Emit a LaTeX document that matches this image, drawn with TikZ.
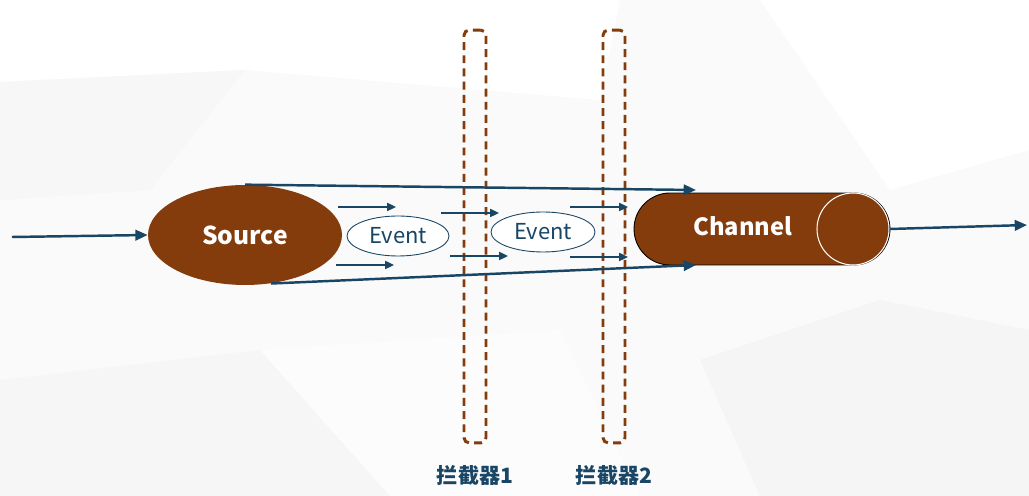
\documentclass[tikz,border=0pt]{standalone}
\usepackage{fontspec}
\setmainfont{Noto Sans CJK SC}
\usetikzlibrary{shapes.geometric,arrows.meta,positioning}
\definecolor{rust}{HTML}{843C0C}
\definecolor{navy}{HTML}{1A4666}

\begin{document}
\begin{tikzpicture}[x=0.02cm, y=-0.02cm,
    flow/.style={draw=navy, line width=1.4pt, -{Triangle[length=7pt,width=6pt]}},
    tick/.style={draw=navy, line width=1.1pt, -{Triangle[length=5pt,width=4.5pt]}},
    event/.style={ellipse, draw=navy, line width=0.5pt, fill=white, text=navy, inner sep=0pt, font=\fontsize{12.5}{14}\selectfont},
    interceptor/.style={rectangle, rounded corners=3pt, draw=rust, line width=1.7pt, dash pattern=on 4.5pt off 3pt, minimum width=0.44cm, minimum height=8.26cm},
    caption/.style={text=navy, font=\fontsize{12}{14}\selectfont\bfseries}]
  \useasboundingbox (0,0) rectangle (1029,496);
  % background facets
  \fill[gray!4] (0,0) rectangle (1029,496);
  \fill[white] (0,0) -- (330,0) -- (245,70) -- (0,82) -- cycle;
  \fill[white] (330,0) -- (620,0) -- (600,100) -- (245,70) -- cycle;
  \fill[gray!7] (0,380) -- (260,350) -- (390,496) -- (0,496) -- cycle;
  \fill[gray!2] (260,350) -- (560,330) -- (640,496) -- (390,496) -- cycle;
  \fill[gray!8] (700,360) -- (880,300) -- (1029,330) -- (1029,496) -- (760,496) -- cycle;
  \fill[white] (760,0) -- (1029,0) -- (1029,150) -- (890,190) -- cycle;
  \fill[gray!6] (0,82) -- (245,70) -- (150,190) -- (0,200) -- cycle;

  % interceptors
  \node[interceptor] (ic1) at (475,236.5) {};
  \node[interceptor] (ic2) at (614,236.5) {};
  \node[caption, below=0.3cm of ic1] (lab1) {拦截器1};
  \node[caption, below=0.3cm of ic2] (lab2) {拦截器2};

  % source and channel
  \node[ellipse, fill=rust, minimum width=3.88cm, minimum height=2cm, text=white, font=\fontsize{14}{16}\selectfont\bfseries] (source) at (245,235) {Source};
  \node[rectangle, rounded corners=0.72cm, draw=black, line width=0.5pt, fill=rust, minimum width=5.12cm, minimum height=1.44cm] (channel) at (762,229) {};
  \node[circle, draw=white, line width=0.6pt, fill=rust, minimum size=1.44cm, inner sep=0pt] (cap) at (853,229) {};
  \node[text=white, font=\fontsize{13.5}{16}\selectfont\bfseries] (chlabel) at (743,226) {Channel};

  % events
  \node[event, minimum width=2.04cm, minimum height=0.8cm] (ev1) at (398,236) {Event};
  \node[event, minimum width=2.08cm, minimum height=0.8cm] (ev2) at (543,232) {Event};

  % free ends
  \coordinate (in) at (12,237);
  \coordinate (out) at (1027,225);
  \coordinate (topend) at (696,190);
  \coordinate (botend) at (696,265);
  \coordinate (a1) at (338,207); \coordinate (b1) at (396,207);
  \coordinate (a2) at (336,265); \coordinate (b2) at (394,265);
  \coordinate (a3) at (441,213); \coordinate (b3) at (499,213);
  \coordinate (a4) at (450,256); \coordinate (b4) at (508,256);
  \coordinate (a5) at (570,207); \coordinate (b5) at (628,207);
  \coordinate (a6) at (570,257); \coordinate (b6) at (628,257);

  % connectors
  \draw[flow] (in) -- (source.west);
  \draw[flow] (source.north) -- (topend);
  \draw[flow] (source.-62) -- (botend);
  \draw[flow] (cap.east) -- (out);
  \draw[tick] (a1) -- (b1);
  \draw[tick] (a2) -- (b2);
  \draw[tick] (a3) -- (b3);
  \draw[tick] (a4) -- (b4);
  \draw[tick] (a5) -- (b5);
  \draw[tick] (a6) -- (b6);
\end{tikzpicture}
\end{document}
